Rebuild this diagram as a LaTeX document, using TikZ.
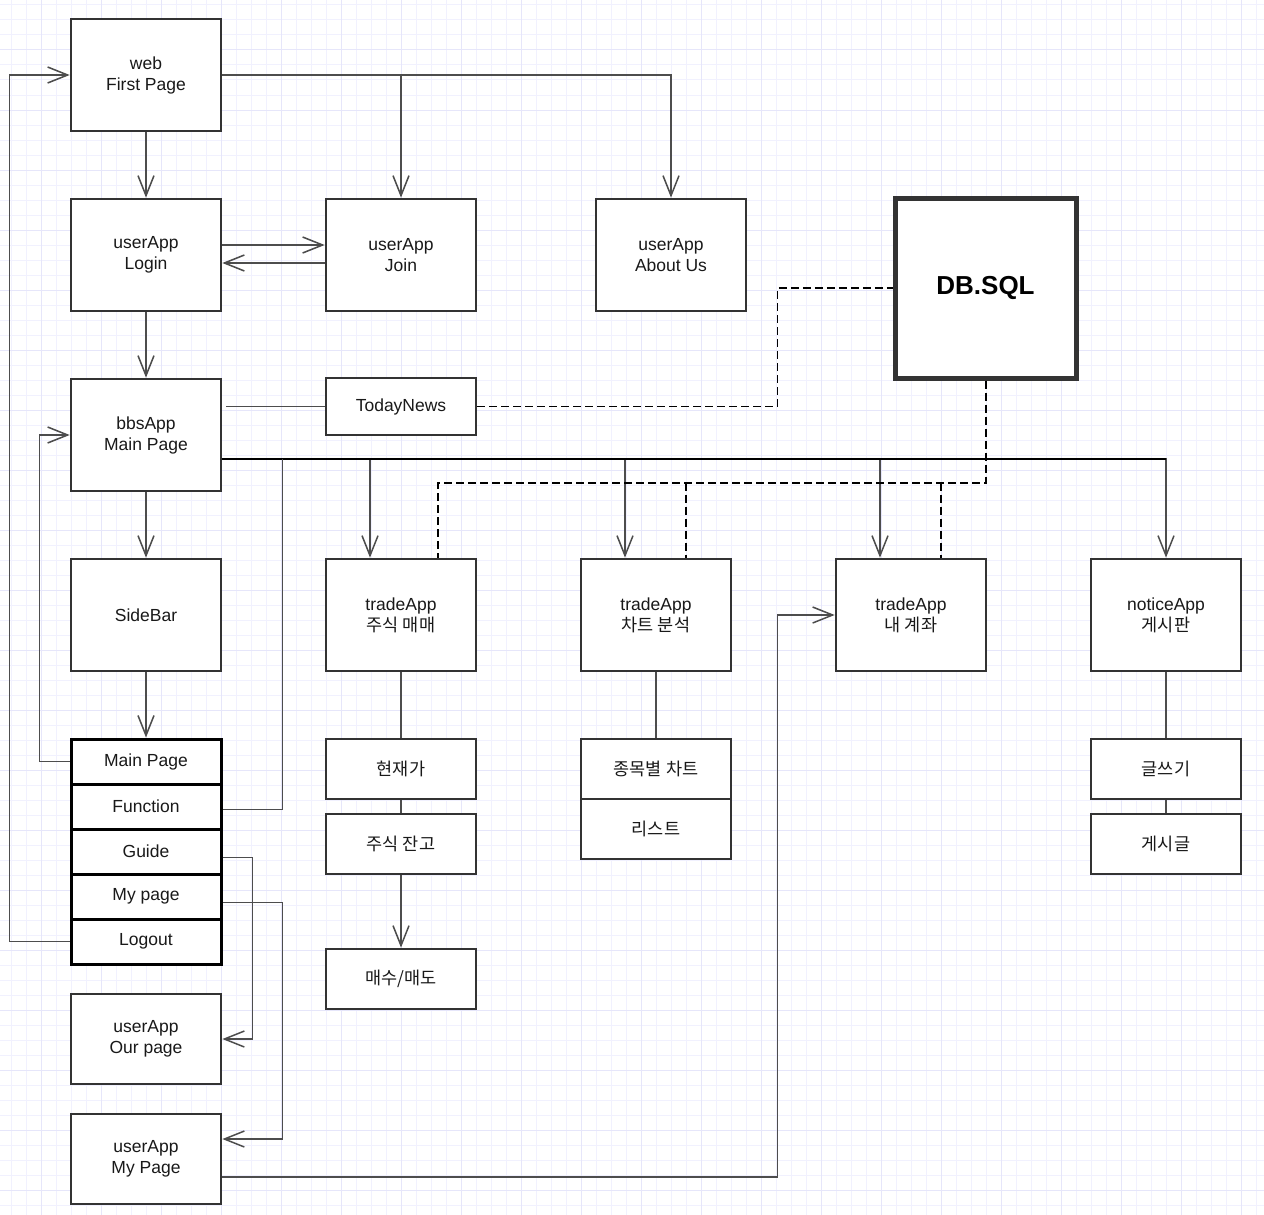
\documentclass[tikz,border=0pt]{standalone}
\usepackage{fontspec}
\setmainfont{Liberation Sans}
\newfontfamily\kr{Noto Sans CJK KR}
\usetikzlibrary{arrows.meta,calc}
\definecolor{edgegray}{HTML}{333333}
\definecolor{wiregray}{HTML}{4D4D4D}
\definecolor{gridmin}{HTML}{F1F1FE}
\definecolor{gridmaj}{HTML}{E6E6FA}
\tikzset{
 box/.style={draw=edgegray,line width=2.7pt,fill=white,text=black!90,minimum width=150pt,minimum height=112pt,
  inner sep=0pt,align=center,font=\fontsize{17.5}{21}\selectfont},
 subbox/.style={box,minimum height=60pt},
 menubox/.style={box,draw=black,line width=3pt,minimum height=45pt},
 wire/.style={draw=wiregray,line width=1.5pt},
 arr/.style={wire,-{Straight Barb[length=20pt,width=16pt]}},
 dbline/.style={draw=black,line width=1.6pt,dash pattern=on 8pt off 4pt},
}
\begin{document}
\begin{tikzpicture}[x=1pt,y=-1pt]
 \useasboundingbox (0,0) rectangle (1264,1215);
 \fill[white] (0,0) rectangle (1264,1215);
 \foreach \gx in {0,...,84} \draw[gridmin,line width=1pt] (11.7+15*\gx,0)--(11.7+15*\gx,1215);
 \foreach \gy in {0,...,80} \draw[gridmin,line width=1pt] (0,5+15*\gy)--(1264,5+15*\gy);
 \foreach \gx in {0,...,20} \draw[gridmaj,line width=1pt] (41.7+60*\gx,0)--(41.7+60*\gx,1215);
 \foreach \gy in {0,...,19} \draw[gridmaj,line width=1pt] (0,50+60*\gy)--(1264,50+60*\gy);
 % boxes
 \node[box] (web) at (146,75) {web\\First Page};
 \node[box] (login) at (146,255) {userApp\\Login};
 \node[box] (join) at (401,255) {userApp\\Join};
 \node[box] (about) at (671,255) {userApp\\About Us};
 \node[box,line width=5pt,minimum width=181pt,minimum height=180pt,text=black,font=\fontsize{26}{30}\selectfont\bfseries] (db) at (985.5,288) {DB.SQL};
 \node[box] (bbs) at (146,435) {bbsApp\\Main Page};
 \node[box,minimum height=57pt] (news) at (401,406.5) {TodayNews};
 \node[box] (side) at (146,615) {SideBar};
 \node[box] (tr1) at (401,615) {tradeApp\\\kr 주식 매매};
 \node[box] (tr2) at (656,615) {tradeApp\\\kr 차트 분석};
 \node[box] (tr3) at (911,615) {tradeApp\\\kr 내 계좌};
 \node[box] (notice) at (1166,615) {noticeApp\\\kr 게시판};
 \node[menubox] (mmain) at (146,761.5) {Main Page};
 \node[menubox] (mfunc) at (146,806.5) {Function};
 \node[menubox] (mguide) at (146,851.5) {Guide};
 \node[menubox] (mmy) at (146,896.5) {My page};
 \node[menubox] (mout) at (146,941.5) {Logout};
 \node[box,minimum height=90pt] (our) at (146,1039) {userApp\\Our page};
 \node[box,minimum height=90pt] (mypage) at (146,1159) {userApp\\My Page};
 \node[subbox] (price) at (401,769) {\kr 현재가};
 \node[subbox] (stock) at (401,844) {\kr 주식 잔고};
 \node[subbox] (order) at (401,979) {\kr 매수/매도};
 \node[subbox] (chart) at (656,769) {\kr 종목별 차트};
 \node[subbox] (list) at (656,829) {\kr 리스트};
 \node[subbox] (write) at (1166,769) {\kr 글쓰기};
 \node[subbox] (post) at (1166,844) {\kr 게시글};
 % links
 \draw[arr] (web)--(login);
 \draw[arr] (web.east)-|(join.north);
 \draw[arr] (web.east)-|(about.north);
 \draw[arr] ([yshift=10pt]login.east)--([yshift=10pt]join.west);
 \draw[arr] ([yshift=-8pt]join.west)--([yshift=-8pt]login.east);
 \draw[arr] (login)--(bbs);
 \draw[wire] (news.west)--([xshift=4pt]news.west-|bbs.east);
 \draw[dbline] (news.east)--++(300,0)|-(db.west);
 \foreach \t/\dx in {tr1/-31,tr2/-31,tr3/-31,notice/0}
  \draw[arr] ([yshift=-24pt]bbs.east)-|([xshift=\dx pt]\t.north);
 \draw[draw=black,line width=1.6pt] ([yshift=-24pt]bbs.east)--([yshift=-24pt]bbs.east-|notice.north);
 \draw[wire] ([yshift=-3pt]mfunc.east)-|([xshift=60pt,yshift=-24pt]bbs.east);
 \draw[dbline,line width=2pt] (db.south)|-([xshift=37pt,yshift=75pt]tr1.north)--([xshift=37pt]tr1.north);
 \draw[dbline] ([xshift=30pt,yshift=75pt]tr2.north)--([xshift=30pt]tr2.north);
 \draw[dbline] ([xshift=30pt,yshift=75pt]tr3.north)--([xshift=30pt]tr3.north);
 \draw[arr] (bbs)--(side);
 \draw[arr] (side)--(mmain);
 \draw[arr] (mmain.west)--++(-30,0)|-(bbs.west);
 \draw[arr] (mout.west)--++(-60,0)|-(web.west);
 \draw[arr] ([yshift=-6pt]mguide.east)--++(30,0)|-(our.east);
 \draw[arr] ([yshift=-6pt]mmy.east)--++(60,0)|-([yshift=20pt]mypage.east);
 \draw[arr] ([yshift=-18pt]mypage.east)--++(555,0)|-(tr3.west);
 \draw[wire] (tr1.south)--(price.north);
 \draw[wire] (price.south)--(stock.north);
 \draw[arr] (stock.south)--(order.north);
 \draw[wire] (tr2.south)--(chart.north);
 \draw[wire] (notice.south)--(write.north);
 \draw[wire] (write.south)--(post.north);
\end{tikzpicture}
\end{document}
